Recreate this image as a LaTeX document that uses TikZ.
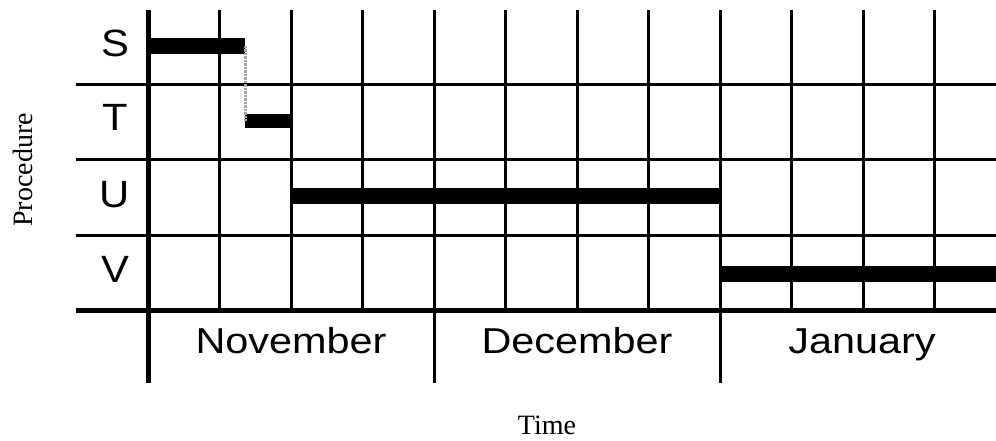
\documentclass[tikz,border=0pt]{standalone}
\usepackage{fontspec}
\setmainfont{Liberation Serif}
\setsansfont{Liberation Sans}
\usetikzlibrary{positioning}
\tikzset{
  gridline/.style={draw=black,line width=3pt},
  axisline/.style={draw=black,line width=5pt},
  bar/.style={fill=black,inner sep=0pt,minimum height=16pt,anchor=west},
  rowlabel/.style={font=\sffamily\fontsize{38}{40}\selectfont,xscale=1.1,anchor=base},
  monthlabel/.style={font=\sffamily\fontsize{36}{40}\selectfont,xscale=1.15,anchor=base},
  axislabel/.style={font=\rmfamily\fontsize{28}{30}\selectfont,anchor=base},
  link/.style={draw=gray!70,densely dotted,line width=2.5pt}
}

\begin{document}
\begin{tikzpicture}[x=1pt,y=-1pt]
\path[use as bounding box] (0,0) rectangle (996,441);
% grid
\foreach \gx in {219.5,291,362.5,434,505.5,577,648.5,720,791.5,863,934.5}
  \draw[gridline] (\gx,10) -- (\gx,310);
\foreach \gy in {85,160,235}
  \draw[gridline] (76,\gy) -- (996,\gy);
\draw[gridline] (434,310) -- (434,383);
\draw[gridline] (720,310) -- (720,383);
\draw[axisline] (76,310) -- (996,310);
\draw[axisline] (148,10) -- (148,383);

% procedures
\node[rowlabel] (lblS) at (115,57) {S};
\node[rowlabel] (lblT) at (115,131) {T};
\node[rowlabel] (lblU) at (115,207) {U};
\node[rowlabel] (lblV) at (115,282) {V};

\node[bar,minimum width=95pt] (sbar) at (150,46) {};
\node[bar,minimum width=46pt,minimum height=14pt] (tbar) at (245,121) {};
\node[bar,minimum width=429pt] (ubar) at (291,196) {};
\node[bar,minimum width=276pt] (vbar) at (720,274) {};
\draw[link] (sbar.east) -- (sbar.east |- tbar.west);

% months
\node[monthlabel] (nov) at (291,353) {November};
\node[monthlabel] (dec) at (577,353) {December};
\node[monthlabel] (jan) at (862,353) {January};

\node[axislabel] (time) at (547,434) {Time};
\node[axislabel,rotate=90] (proc) at (32,170) {Procedure};
\end{tikzpicture}
\end{document}
